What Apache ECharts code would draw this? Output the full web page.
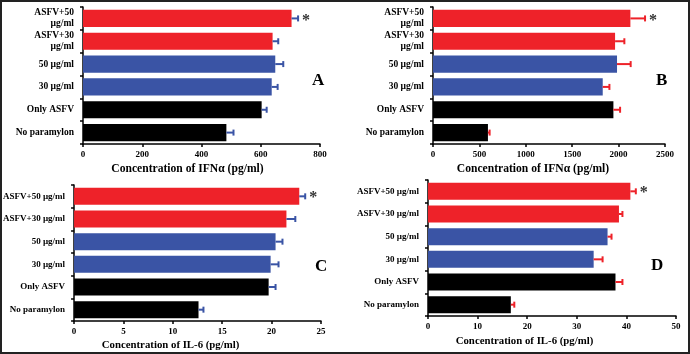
<!DOCTYPE html>
<html>
<head>
<meta charset="utf-8">
<script src="https://cdn.jsdelivr.net/npm/echarts@6/dist/echarts.min.js"></script>
<style>
html,body{margin:0;padding:0;background:#fff;}
#chart{width:690px;height:354px;}
</style>
</head>
<body>
<div id="chart"></div>
<script>
// Categories (bottom to top)
var catsAB = ['No paramylon', 'Only ASFV', '30 µg/ml', '50 µg/ml', 'ASFV+30\nµg/ml', 'ASFV+50\nµg/ml'];
var catsCD = ['No paramylon', 'Only ASFV', '30 µg/ml', '50 µg/ml', 'ASFV+30 µg/ml', 'ASFV+50 µg/ml'];
var barColors = ['#000000', '#000000', '#3A54A5', '#3A54A5', '#EE2229', '#EE2229'];

// Panel A: IFNα (pg/ml)
var valA = [484, 603, 637, 649, 640, 704];
var errA = [24, 17, 20, 27, 19, 22];
// Panel B: IFNα (pg/ml)
var valB = [592, 1944, 1829, 1983, 1962, 2127];
var errB = [18, 72, 72, 147, 100, 158];
// Panel C: IL-6 (pg/ml)
var valC = [12.6, 19.7, 19.9, 20.4, 21.5, 22.8];
var errC = [0.5, 0.7, 0.8, 0.7, 0.9, 0.6];
// Panel D: IL-6 (pg/ml)
var valD = [16.7, 37.8, 33.4, 36.2, 38.5, 40.8];
var errD = [0.7, 1.4, 1.8, 0.8, 0.7, 1.1];
// Significance marker (index of category)
var sigIndex = 5;

var ticksA = [0, 200, 400, 600, 800];
var ticksB = [0, 500, 1000, 1500, 2000, 2500];
var ticksC = [0, 5, 10, 15, 20, 25];
var ticksD = [0, 10, 20, 30, 40, 50];

var FONT = '"Liberation Serif", "Times New Roman", serif';

var panels = [
  {cats: catsAB, val: valA, err: errA, ticks: ticksA, name: 'Concentration of IFNα (pg/ml)', errColor: '#3A54A5',
   grid: {left: 83, top: 7, width: 237, height: 137}, nameGap: 19, nameSize: 11.6, nameShift: 28, catSize: 9.5,
   letter: 'A', lx: 318, ly: 82},
  {cats: catsAB, val: valB, err: errB, ticks: ticksB, name: 'Concentration of IFNα (pg/ml)', errColor: '#EE2229',
   grid: {left: 433, top: 7, width: 232, height: 137}, nameGap: 19, nameSize: 11.6, nameShift: 32, catSize: 9.5,
   letter: 'B', lx: 662, ly: 82},
  {cats: catsCD, val: valC, err: errC, ticks: ticksC, name: 'Concentration of IL-6 (pg/ml)', errColor: '#3A54A5',
   grid: {left: 73, top: 185, width: 248, height: 136}, nameGap: 18.5, nameSize: 10.8, nameShift: 54, catSize: 9,
   letter: 'C', lx: 321, ly: 268},
  {cats: catsCD, val: valD, err: errD, ticks: ticksD, name: 'Concentration of IL-6 (pg/ml)', errColor: '#EE2229',
   grid: {left: 428, top: 180, width: 248, height: 136}, nameGap: 19.5, nameSize: 10.8, nameShift: 55, catSize: 9,
   letter: 'D', lx: 657, ly: 267}
];

var option = {
  animation: false,
  backgroundColor: '#fff',
  grid: [], xAxis: [], yAxis: [], series: [],
  graphic: [
    {type: 'rect', shape: {x: 1, y: 1, width: 688, height: 352}, style: {fill: 'none', stroke: '#222', lineWidth: 2}, silent: true}
  ]
};

panels.forEach(function (p, i) {
  var t = p.ticks;
  option.grid.push(Object.assign({containLabel: false}, p.grid));
  option.xAxis.push({
    type: 'value', gridIndex: i, min: t[0], max: t[t.length - 1], interval: t[1] - t[0],
    splitLine: {show: false},
    axisLine: {show: true, lineStyle: {color: '#000', width: 1.5}},
    axisTick: {show: true, length: 3, lineStyle: {color: '#000', width: 1.5}},
    axisLabel: {color: '#000', fontFamily: FONT, fontWeight: 'bold', fontSize: 9, margin: 6,
      formatter: function (v) { return String(v); }},
    name: p.name, nameLocation: 'middle', nameGap: p.nameGap,
    nameTextStyle: {color: '#000', fontFamily: FONT, fontWeight: 'bold', fontSize: p.nameSize,
      padding: [0, p.nameShift, 0, 0]}
  });
  option.yAxis.push({
    type: 'category', gridIndex: i, data: p.cats,
    axisLine: {show: true, lineStyle: {color: '#000', width: 1.5}},
    axisTick: {show: true, length: 3, lineStyle: {color: '#000', width: 1.5}},
    axisLabel: {color: '#000', fontFamily: FONT, fontWeight: 'bold', fontSize: p.catSize, margin: 9, lineHeight: 11, align: 'right'}
  });
  option.series.push({
    type: 'bar', xAxisIndex: i, yAxisIndex: i, barCategoryGap: '25%',
    data: p.val.map(function (v, k) { return {value: v, itemStyle: {color: barColors[k]}}; })
  });
  option.series.push({
    type: 'custom', xAxisIndex: i, yAxisIndex: i, z: 5,
    data: p.val.map(function (v, k) { return [v, k, p.err[k]]; }),
    encode: {x: 0, y: 1},
    renderItem: (function (color) {
      return function (params, api) {
        var v = api.value(0), k = api.value(1), e = api.value(2);
        var p0 = api.coord([v, k]);
        var p1 = api.coord([v + e, k]);
        var children = [
          {type: 'line', shape: {x1: p0[0], y1: p0[1], x2: p1[0], y2: p1[1]}, style: {stroke: color, lineWidth: 2}},
          {type: 'line', shape: {x1: p1[0], y1: p1[1] - 3, x2: p1[0], y2: p1[1] + 3}, style: {stroke: color, lineWidth: 2}}
        ];
        if (k === sigIndex) {
          children.push({type: 'text', style: {text: '*', x: p1[0] + 8, y: p1[1] + 2, fill: '#333',
            font: 'bold 16px ' + FONT, textAlign: 'center', textVerticalAlign: 'middle'}});
        }
        return {type: 'group', children: children};
      };
    })(p.errColor)
  });
  option.graphic.push({
    type: 'text', left: p.lx - 6, top: p.ly - 10,
    style: {text: p.letter, fill: '#000', font: 'bold 17px ' + FONT}
  });
});

var chart = echarts.init(document.getElementById('chart'), null, {renderer: 'canvas'});
chart.setOption(option);
</script>
</body>
</html>
